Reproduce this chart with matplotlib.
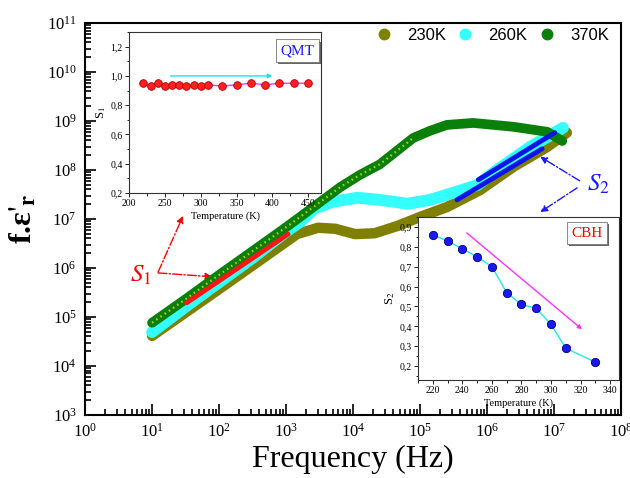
import matplotlib
matplotlib.use("Agg")
import matplotlib.pyplot as plt
import matplotlib.patheffects as pe
from matplotlib.lines import Line2D
from matplotlib.ticker import FuncFormatter, LogLocator, MultipleLocator, NullFormatter

plt.rcParams["font.family"] = ["Liberation Serif", "DejaVu Serif"]
plt.rcParams["mathtext.fontset"] = "stix"

# main curves (Hz, f*eps'_r)
freq_230 = [10, 31.6, 100, 316, 1450, 3000, 5400, 1.07e4, 2.1e4, 4.6e4, 1.0e5, 2.5e5, 7.9e5, 2.45e6, 7.9e6, 1.55e7]
val_230 = [4.1e4, 1.23e5, 3.7e5, 1.12e6, 4.9e6, 6.6e6, 6.3e6, 4.9e6, 5.1e6, 7.2e6, 1.1e7, 1.74e7, 3.9e7, 1.15e8, 2.95e8, 5.75e8]

freq_260 = [10, 31.6, 100, 316, 1000, 1620, 2700, 5000, 1.15e4, 2.5e4, 6.5e4, 1.41e5, 3.1e5, 7.1e5, 1.41e6, 4.4e6, 1.35e7]
val_260 = [4.9e4, 1.62e5, 5.1e5, 1.6e6, 5.5e6, 8.7e6, 1.66e7, 2.24e7, 2.7e7, 2.45e7, 2.04e7, 2.45e7, 3.4e7, 4.9e7, 1.0e8, 2.95e8, 7.2e8]

freq_370 = [10, 31.6, 100, 316, 1020, 6500, 1.26e4, 2.5e4, 7.9e4, 1.41e5, 2.5e5, 6.2e5, 2.45e6, 7.9e6, 1.32e7]
val_370 = [7.6e4, 2.3e5, 7.2e5, 2.2e6, 6.9e6, 4.5e7, 7.9e7, 1.3e8, 4.5e8, 6.3e8, 8.3e8, 9.1e8, 7.6e8, 6.0e8, 3.9e8]

# fitted slopes drawn on the curves
s1_freq = [33, 1070]
s1_val = [1.95e5, 4.9e6]
s2a_freq = [3.55e5, 6.6e6]
s2a_val = [2.45e7, 2.7e8]
s2b_freq = [7.4e5, 1.02e7]
s2b_val = [6.3e7, 5.75e8]

# insets
temp_s1 = [220, 230, 240, 250, 260, 270, 280, 290, 300, 310, 330, 350, 370, 390, 410, 430, 450]
s1_values = [0.95, 0.93, 0.95, 0.93, 0.94, 0.94, 0.93, 0.94, 0.93, 0.94, 0.93, 0.94, 0.95, 0.94, 0.95, 0.95, 0.95]
temp_s2 = [220, 230, 240, 250, 260, 270, 280, 290, 300, 310, 330]
s2_values = [0.86, 0.83, 0.79, 0.75, 0.70, 0.57, 0.51, 0.49, 0.41, 0.29, 0.22]

labels = ["230K", "260K", "370K"]
colors = ["#808000", "#33ffff", "#0a800a"]

fig = plt.figure(figsize=(6.3, 4.78), dpi=100)
ax = fig.add_axes([0.135, 0.132, 0.851, 0.820])

ax.plot(freq_230, val_230, color=colors[0], lw=7.5, solid_capstyle="round", zorder=2)
ax.plot(freq_260, val_260, color=colors[1], lw=8.5, solid_capstyle="round", zorder=3)
ax.plot(freq_370, val_370, color=colors[2], lw=7, solid_capstyle="round", zorder=4)
ax.plot(freq_370[:9], val_370[:9], color="#b4d200", lw=1.6, ls=(0, (0.7, 1.6)), zorder=4.5)

ax.plot(s1_freq, s1_val, color="#ff1515", lw=3.5, solid_capstyle="round", zorder=6)
ax.plot(s2a_freq, s2a_val, color="#0a14e6", lw=3.5, solid_capstyle="round", zorder=6)
ax.plot(s2b_freq, s2b_val, color="#0a14e6", lw=3.5, solid_capstyle="round", zorder=6)

ax.set_xscale("log")
ax.set_yscale("log")
ax.set_xlim(1, 1e8)
ax.set_ylim(1e3, 1e11)
ax.xaxis.set_major_locator(LogLocator(base=10, numticks=20))
ax.yaxis.set_major_locator(LogLocator(base=10, numticks=20))
ax.xaxis.set_minor_locator(LogLocator(base=10, subs=range(2, 10), numticks=20))
ax.yaxis.set_minor_locator(LogLocator(base=10, subs=range(2, 10), numticks=20))
ax.xaxis.set_minor_formatter(NullFormatter())
ax.yaxis.set_minor_formatter(NullFormatter())
ax.tick_params(which="both", direction="in", top=False, right=False, labelsize=12, width=1.2)
ax.tick_params(which="major", length=8, pad=6)
ax.tick_params(which="minor", length=4)
for s in ax.spines.values():
    s.set_linewidth(1.5)

ax.set_xlabel("Frequency (Hz)", fontsize=23, labelpad=3)
ax.set_ylabel(r"f.ε$'_\mathbf{r}$", fontsize=23, fontweight="bold", labelpad=6)

handles = [Line2D([], [], ls="", marker="o", ms=7.5, color=c) for c in colors]
ax.legend(handles, labels, ncol=3, loc="upper right", bbox_to_anchor=(1.005, 1.025), frameon=False,
          prop={"family": "Liberation Sans", "size": 12}, handletextpad=0.8, columnspacing=0.55,
          handlelength=1.2)

# S1 / S2 annotations
arr_red = dict(arrowstyle="-|>", color="red", lw=1, linestyle="-.", mutation_scale=10, shrinkA=0, shrinkB=0)
ax.text(6.8, 6.9e5, r"$S_1$", color="red", fontsize=18, ha="center", va="center")
ax.annotate("", xy=(79, 6.6e5), xytext=(12.3, 7.9e5), arrowprops=arr_red)
ax.annotate("", xy=(29, 1.15e7), xytext=(12.3, 8.2e5), arrowprops=arr_red)

arr_blue = dict(arrowstyle="-|>", color="#1a1aff", lw=1, linestyle="-.", mutation_scale=10, shrinkA=0, shrinkB=0)
ax.text(4.6e7, 5.1e7, r"$S_2$", color="#1a1aff", fontsize=18, ha="center", va="center")
ax.annotate("", xy=(6.2e6, 1.86e8), xytext=(2.4e7, 6.0e7), arrowprops=arr_blue)
ax.annotate("", xy=(6.2e6, 1.38e7), xytext=(2.2e7, 4.3e7), arrowprops=arr_blue)


def comma(v, pos):
    return f"{v:.1f}".replace(".", ",")


def style_inset(ia):
    ia.set_facecolor("white")
    for s in ia.spines.values():
        s.set_linewidth(0.8)
        s.set_color("#333333")
    ia.tick_params(which="both", direction="out", top=False, right=False, labelsize=7, width=0.6, pad=1.5)
    ia.tick_params(which="major", length=3)
    ia.tick_params(which="minor", length=1.8)
    ia.yaxis.set_major_formatter(FuncFormatter(comma))


def label_box(ia, text, x, y, color):
    t = ia.text(x, y, text, transform=ia.transAxes, color=color, fontsize=11, ha="center", va="center",
                bbox=dict(boxstyle="square,pad=0.3", fc="white", ec="#777777", lw=0.6))
    t.get_bbox_patch().set_path_effects([pe.withSimplePatchShadow(offset=(1.5, -1.5), shadow_rgbFace="#555555", alpha=0.9)])


# QMT inset
ia1 = fig.add_axes([0.2048, 0.5962, 0.3048, 0.3368], zorder=10)
ia1.plot(temp_s1, s1_values, color="#ff33ff", lw=1, marker="o", ms=5.5, mfc="#ff2020", mec="#b00000", mew=0.6)
ia1.annotate("", xy=(400, 1.0), xytext=(258, 1.0),
             arrowprops=dict(arrowstyle="-|>", color="#20e0f0", lw=1, mutation_scale=6, shrinkA=0, shrinkB=0))
ia1.set_xlim(200, 468)
ia1.set_ylim(0.2, 1.3)
ia1.xaxis.set_major_locator(MultipleLocator(50))
ia1.xaxis.set_minor_locator(MultipleLocator(25))
ia1.yaxis.set_major_locator(MultipleLocator(0.2))
ia1.yaxis.set_minor_locator(MultipleLocator(0.1))
style_inset(ia1)
ia1.set_xlabel("Temperature (K)", fontsize=7.5, labelpad=2)
ia1.set_ylabel(r"S$_1$", fontsize=9, labelpad=2)
label_box(ia1, "QMT", 0.875, 0.885, "#1a1aff")

# CBH inset
ia2 = fig.add_axes([0.6635, 0.2050, 0.3190, 0.3410], zorder=10)
ia2.plot(temp_s2, s2_values, color="#20e8f0", lw=1, marker="o", ms=6, mfc="#1a1aee", mec="#000080", mew=0.6)
ia2.annotate("", xy=(321, 0.385), xytext=(243, 0.87),
             arrowprops=dict(arrowstyle="-|>", color="#ff33ff", lw=1, mutation_scale=6, shrinkA=0, shrinkB=0))
ia2.set_xlim(210, 346)
ia2.set_ylim(0.13, 0.95)
ia2.xaxis.set_major_locator(MultipleLocator(20))
ia2.xaxis.set_minor_locator(MultipleLocator(10))
ia2.yaxis.set_major_locator(MultipleLocator(0.1))
ia2.yaxis.set_minor_locator(MultipleLocator(0.05))
style_inset(ia2)
ia2.set_xlabel("Temperature (K)", fontsize=7.5, labelpad=2)
ia2.set_ylabel(r"S$_2$", fontsize=9, labelpad=2)
label_box(ia2, "CBH", 0.84, 0.9, "red")

fig.savefig("out.png", dpi=100)
